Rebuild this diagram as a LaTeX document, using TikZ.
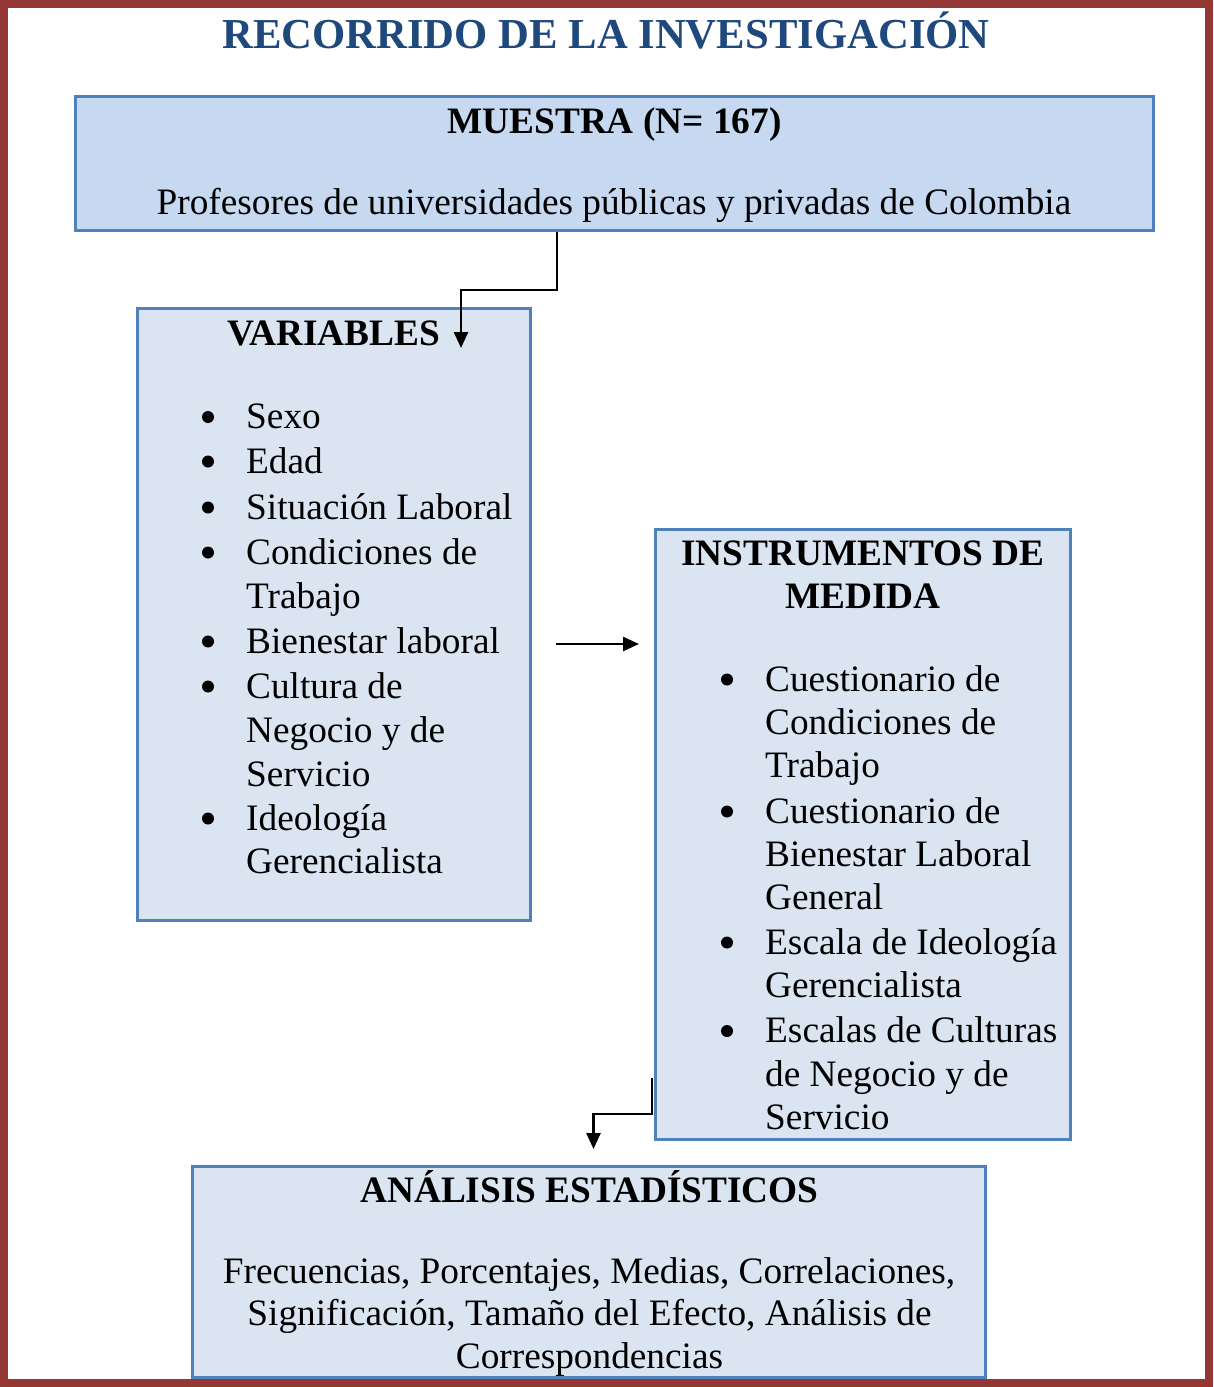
\documentclass[tikz,border=0pt]{standalone}
\usepackage{fontspec}
\setmainfont{Liberation Serif}
\usetikzlibrary{arrows.meta}

\definecolor{framered}{HTML}{953735}
\definecolor{titleblue}{HTML}{1F497D}
\definecolor{boxline}{HTML}{4F81BD}
\definecolor{fillstrong}{HTML}{C6D9F1}
\definecolor{fillsoft}{HTML}{DBE5F1}

\tikzset{
  panel/.style={draw=boxline, line width=3pt, fill=fillsoft, inner sep=0pt,
    rectangle, anchor=center},
  body/.style={inner sep=0pt, anchor=base,
    font=\fontsize{37.3}{44}\selectfont},
  item/.style={body, anchor=base west},
  heading/.style={body, font=\fontsize{37.3}{44}\selectfont\bfseries},
  conn/.style={draw=black, line width=2.5pt,
    -{Triangle[width=14pt,length=16pt]}},
  dot/.style={fill=black},
}

\begin{document}
\begin{tikzpicture}[x=1pt,y=-1pt]
\useasboundingbox (0,0) rectangle (1213,1387);

% outer frame
\draw[framered, line width=8pt] (4,4) rectangle (1209,1383);

% title
\node[inner sep=0pt, anchor=base, text=titleblue,
      font=\fontsize{42.7}{50}\selectfont\bfseries] (title) at (606,48)
  {RECORRIDO DE LA INVESTIGACIÓN};

% panels
\node[panel, fill=fillstrong, minimum width=1078pt, minimum height=134pt]
  (muestra) at (614.5,163.5) {};
\node[panel, minimum width=393pt, minimum height=612pt]
  (variables) at (334,614.5) {};
\node[panel, minimum width=415pt, minimum height=610pt]
  (instr) at (863,834.5) {};
\node[panel, minimum width=793pt, minimum height=211pt]
  (analisis) at (589,1272) {};

% sample
\node[heading] (mh) at (614.5,133) {MUESTRA (N= 167)};
\node[body] (mt) at (614,214) {Profesores de universidades públicas y privadas de Colombia};

% variables
\node[heading] (vh) at (333.5,345) {VARIABLES};
\node[item] (v1)  at (246,428.5) {Sexo};
\node[item] (v2)  at (246,473)   {Edad};
\node[item] (v3)  at (246,519)   {Situación Laboral};
\node[item] (v4)  at (246,564)   {Condiciones de};
\node[item] (v4b) at (246,608)   {Trabajo};
\node[item] (v5)  at (246,653)   {Bienestar laboral};
\node[item] (v6)  at (246,698)   {Cultura de};
\node[item] (v6b) at (246,742.5) {Negocio y de};
\node[item] (v6c) at (246,786)   {Servicio};
\node[item] (v7)  at (246,830)   {Ideología};
\node[item] (v7b) at (246,873.5) {Gerencialista};
\foreach \b in {428.5,473,519,564,653,698,830}
  \fill[dot] (208,\b-11.5) circle (6pt);

% instruments
\node[heading] (ih1) at (863,565.5) {INSTRUMENTOS DE};
\node[heading] (ih2) at (863,608.5) {MEDIDA};
\node[item] (i1)  at (765,691)    {Cuestionario de};
\node[item] (i1b) at (765,734.5)  {Condiciones de};
\node[item] (i1c) at (765,777.5)  {Trabajo};
\node[item] (i2)  at (765,823)    {Cuestionario de};
\node[item] (i2b) at (765,866.5)  {Bienestar Laboral};
\node[item] (i2c) at (765,909.5)  {General};
\node[item] (i3)  at (765,954)    {Escala de Ideología};
\node[item] (i3b) at (765,997.5)  {Gerencialista};
\node[item] (i4)  at (765,1042.5) {Escalas de Culturas};
\node[item] (i4b) at (765,1086)   {de Negocio y de};
\node[item] (i4c) at (765,1129)   {Servicio};
\foreach \b in {691,823,954,1042.5}
  \fill[dot] (727,\b-11.5) circle (6pt);

% analysis
\node[heading] (ah) at (589.5,1202) {ANÁLISIS ESTADÍSTICOS};
\node[body] (a1) at (589,1283) {Frecuencias, Porcentajes, Medias, Correlaciones,};
\node[body] (a2) at (589.5,1325.5) {Significación, Tamaño del Efecto, Análisis de};
\node[body] (a3) at (589.5,1368) {Correspondencias};

% connectors
\coordinate (k1)  at (557,290);
\coordinate (k1b) at (461,290);
\coordinate (t1)  at (461,348);
\draw[conn] (k1 |- muestra.south) -- (k1) -- (k1b) -- (t1);

\coordinate (h1) at (556,644);
\coordinate (h2) at (639,644);
\draw[conn] (h1) -- (h2);

\coordinate (s3) at (652,1078);
\coordinate (k3) at (652,1114);
\coordinate (k3b) at (593.5,1114);
\coordinate (t3) at (593.5,1149);
\draw[conn] (s3) -- (k3) -- (k3b) -- (t3);
\end{tikzpicture}
\end{document}
